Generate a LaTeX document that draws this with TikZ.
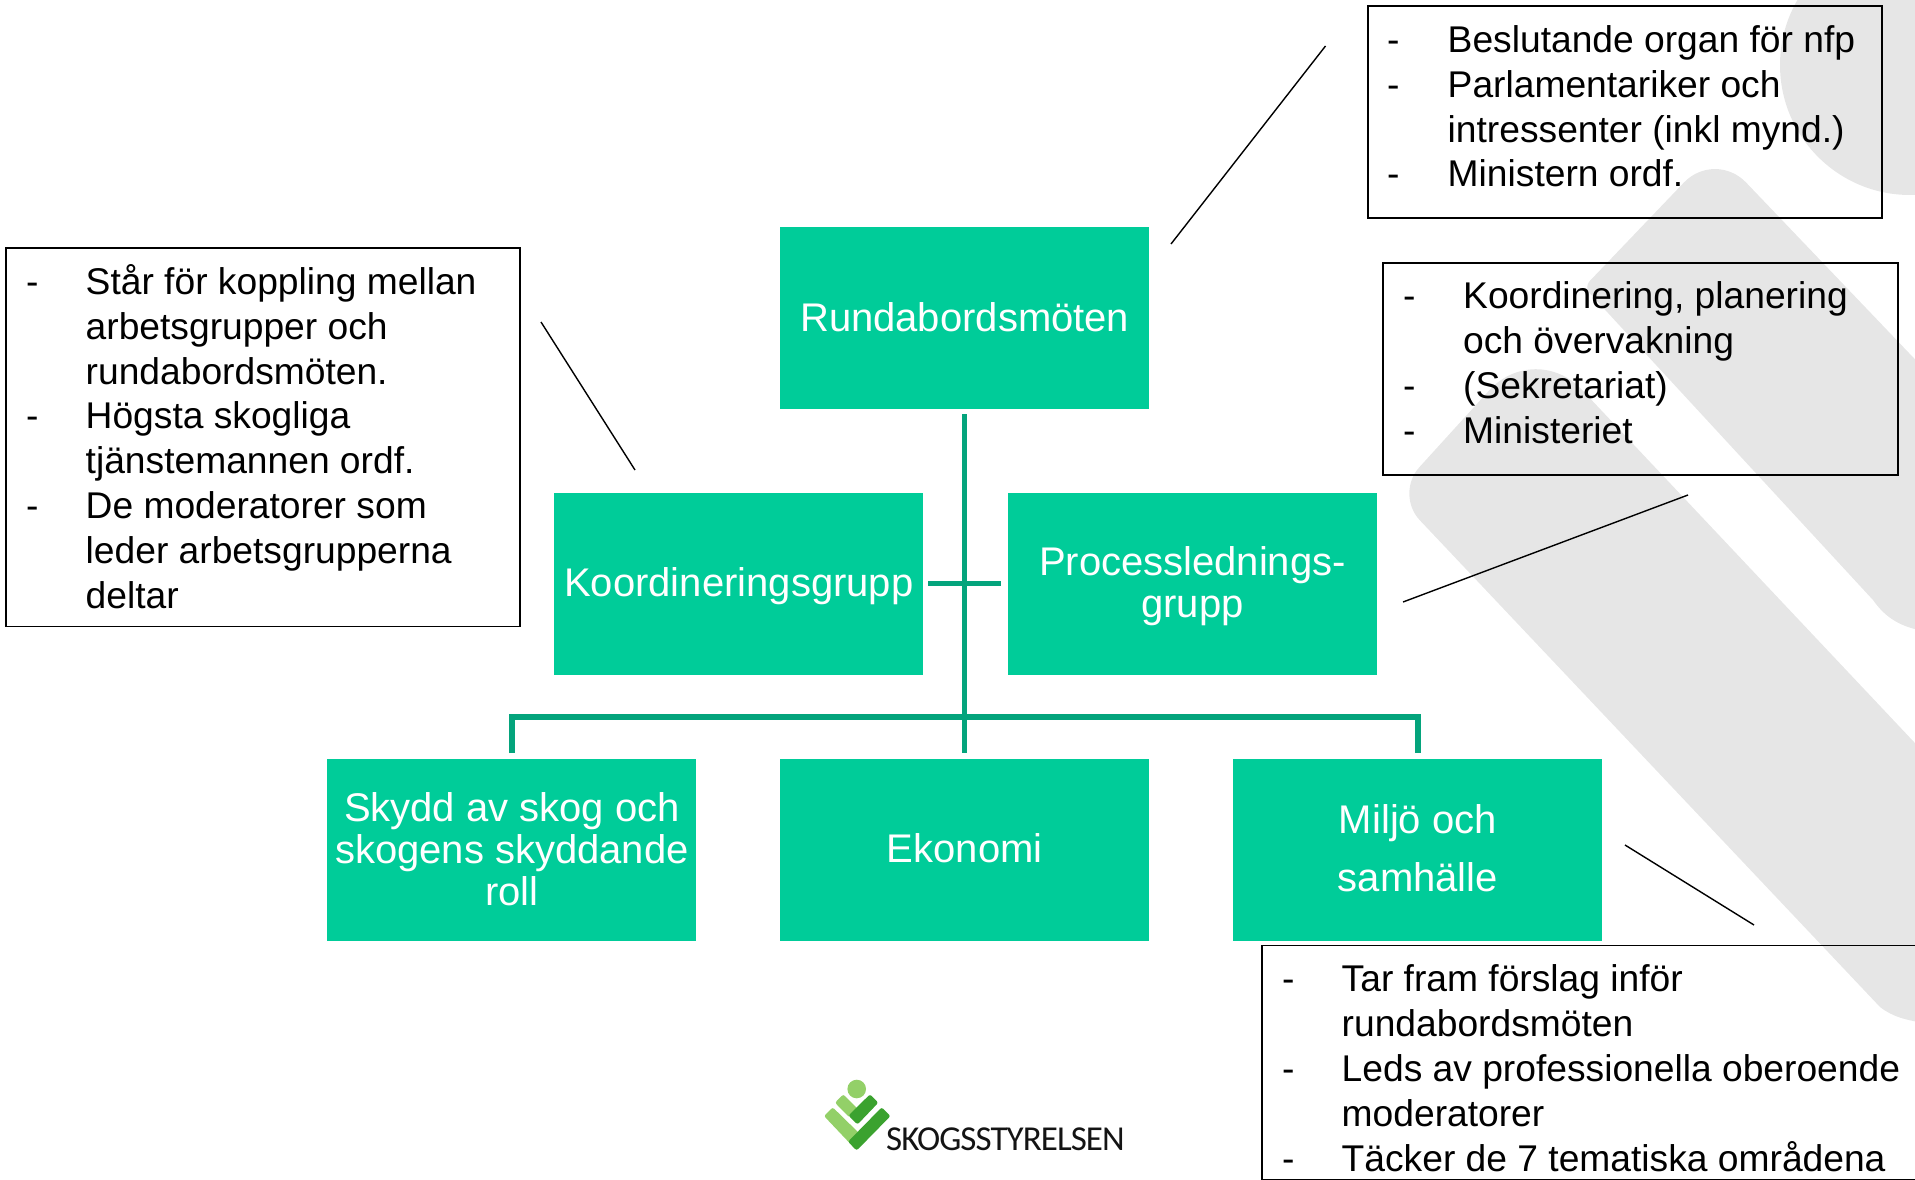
\documentclass[tikz,border=0pt]{standalone}
\usepackage{fontspec}
\setmainfont{Liberation Sans}
\newfontfamily\logofont[LetterSpace=-2.6]{Carlito}
\definecolor{boxgreen}{HTML}{00CC99}
\definecolor{linegreen}{HTML}{04A47C}
\definecolor{mark}{HTML}{E6E6E6}
\definecolor{logolight}{HTML}{93D068}
\definecolor{logodark}{HTML}{3BA22F}
\tikzset{
  greenbox/.style={fill=boxgreen,minimum width=369pt,minimum height=182pt,inner sep=0pt,outer sep=0pt,
    text=white,align=center,font=\fontsize{40}{42}\selectfont},
  oneline/.style={text height=30pt,text depth=4pt},
  callout/.style={draw=black,line width=1.7pt,anchor=north west,inner sep=0pt,outer sep=0pt},
  itemtext/.style={anchor=base west,inner sep=0pt,text=black,font=\fontsize{37.2}{45}\selectfont},
  treeline/.style={draw=linegreen,line width=5.5pt},
  leader/.style={draw=black,line width=1.4pt},
  markshape/.style={fill=mark,draw=none},
  logobar/.style={rounded corners=2.2pt,draw=none}
}
\newcommand\itemline[4]{\node[itemtext] (#1) at (#2,#3) {#4};}
\begin{document}
\begin{tikzpicture}[x=1pt,y=-1pt]
\useasboundingbox (0,0) rectangle (1915,1180);
% watermark
\fill[markshape] (1910,65) circle (130);
\fill[markshape] [rounded corners=45pt] (1930,375) -- (1715,150)
  [rounded corners=8pt] -- (1584,287) [sharp corners] -- (1873,600)
  .. controls (1885,617) and (1900,628) .. (1930,632) -- cycle;
\fill[markshape] [rounded corners=68pt] (1930,759) -- (1535,340)
  [rounded corners=36pt] -- (1395,494) [sharp corners] -- (1880,1007)
  .. controls (1893,1017) and (1905,1020) .. (1930,1024) -- cycle;
% green nodes
\node[greenbox,oneline] (run) at (964.7,318) {Rundabordsmöten};
\node[greenbox,oneline] (kor) at (738.8,583.5) {Koordineringsgrupp};
\node[greenbox] (pro) at (1192.4,583.5) {\rule{0pt}{34pt}Processlednings-\\grupp};
\node[greenbox] (sky) at (511.9,850) {Skydd av skog och\\skogens skyddande\\roll\rule[-2.6pt]{0pt}{0pt}};
\node[greenbox,text height=30pt,text depth=6pt] (eko) at (964.7,850) {Ekonomi};
\node[greenbox,font=\fontsize{40}{58}\selectfont] (mil) at (1417.9,850) {Miljö och\\samhälle\rule[-3.6pt]{0pt}{0pt}};
% tree
\coordinate (bus) at (964.7,717);
\draw[treeline,shorten <=5pt,shorten >=6pt] (run.south) -- (eko.north);
\draw[treeline,shorten <=6pt,shorten >=6pt] (sky.north) |- (bus) -| (mil.north);
\draw[treeline,shorten <=5pt,shorten >=7pt] (kor.east) -- (pro.west);
% callout boxes
\node[callout,minimum width=514pt,minimum height=212pt] (boxa) at (1368,6) {};
\node[callout,minimum width=515pt,minimum height=212pt] (boxb) at (1382.7,263) {};
\node[callout,minimum width=514pt,minimum height=378.5pt] (boxc) at (6,248) {};
\node[callout,minimum width=680pt,minimum height=234pt] (boxd) at (1262,945.5) {};
% box a
\itemline{ad1}{1387}{53}{-}\itemline{at1}{1447.5}{53}{Beslutande organ för nfp}
\itemline{ad2}{1387}{98}{-}\itemline{at2}{1447.5}{98}{Parlamentariker och}
\itemline{at3}{1447.5}{143}{intressenter (inkl mynd.)}
\itemline{ad3}{1387}{186.5}{-}\itemline{at4}{1447.5}{186.5}{Ministern ordf.}
% box b
\itemline{bd1}{1403}{308}{-}\itemline{bt1}{1463}{308}{Koordinering, planering}
\itemline{bt2}{1463}{353}{och övervakning}
\itemline{bd2}{1403}{398}{-}\itemline{bt3}{1463}{398}{(Sekretariat)}
\itemline{bd3}{1403}{443}{-}\itemline{bt4}{1463}{443}{Ministeriet}
% box c
\itemline{cd1}{26}{294.4}{-}\itemline{ct1}{85.5}{294.4}{Står för koppling mellan}
\itemline{ct2}{85.5}{339.2}{arbetsgrupper och}
\itemline{ct3}{85.5}{384}{rundabordsmöten.}
\itemline{cd2}{26}{428.8}{-}\itemline{ct4}{85.5}{428.8}{Högsta skogliga}
\itemline{ct5}{85.5}{473.6}{tjänstemannen ordf.}
\itemline{cd3}{26}{518.4}{-}\itemline{ct6}{85.5}{518.4}{De moderatorer som}
\itemline{ct7}{85.5}{563.2}{leder arbetsgrupperna}
\itemline{ct8}{85.5}{608}{deltar}
% box d
\itemline{dd1}{1282}{991}{-}\itemline{dt1}{1341.5}{991}{Tar fram förslag inför}
\itemline{dt2}{1341.5}{1036}{rundabordsmöten}
\itemline{dd2}{1282}{1081}{-}\itemline{dt3}{1341.5}{1081}{Leds av professionella oberoende}
\itemline{dt4}{1341.5}{1126}{moderatorer}
\itemline{dd3}{1282}{1171.5}{-}\itemline{dt5}{1341.5}{1171.5}{Täcker de 7 tematiska områdena}
% leaders
\coordinate (la1) at (1171,244); \coordinate (la2) at (1325.5,46);
\coordinate (lc1) at (541,322); \coordinate (lc2) at (635,470);
\coordinate (lb1) at (1403,602); \coordinate (lb2) at (1688,495);
\coordinate (ld1) at (1625,845); \coordinate (ld2) at (1754,925);
\draw[leader] (la1) -- (la2);
\draw[leader] (lc1) -- (lc2);
\draw[leader] (lb1) -- (lb2);
\draw[leader] (ld1) -- (ld2);
% logo
\fill[logolight] (856.7,1089) circle (9.3);
\fill[logolight,logobar] (835,1102.7) -- (843.3,1094.3) -- (858,1109) -- (849.5,1117.5) -- cycle;
\fill[logodark,logobar] (870,1094.3) -- (878.3,1102.7) -- (857.5,1124.5) -- (848.5,1115.5) -- cycle;
\fill[logolight,logobar] (824,1116) -- (832.7,1107.3) -- (862,1136) -- (856.7,1150.5) -- cycle;
\fill[logodark,logobar] (881.7,1107.3) -- (890.5,1116) -- (856.7,1150.5) -- (848,1141.7) -- cycle;
\node[anchor=base west,inner sep=0pt,text=black!92,font=\logofont\fontsize{35}{35}\selectfont] (logotext) at (886,1150.7) {SKOGSSTYRELSEN};
\end{tikzpicture}
\end{document}
